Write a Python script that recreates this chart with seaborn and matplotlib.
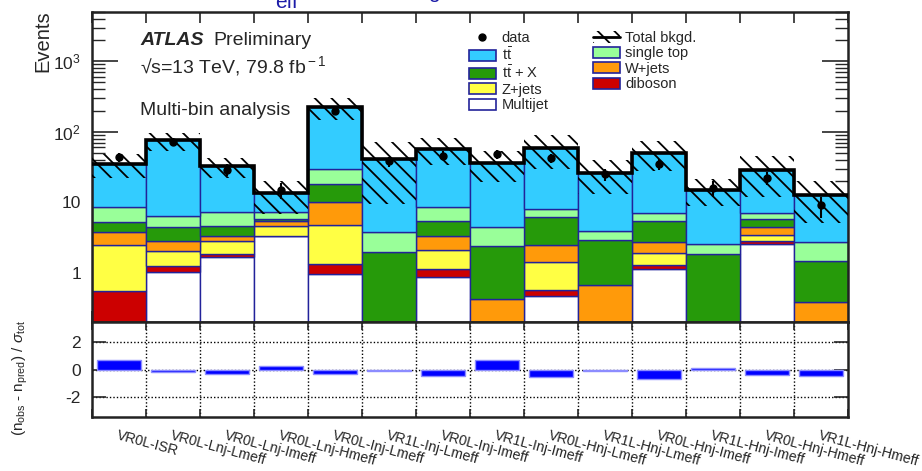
import numpy as np
import pandas as pd
import matplotlib
matplotlib.use("Agg")
import matplotlib.pyplot as plt
from matplotlib.patches import Patch
from matplotlib.lines import Line2D
from matplotlib.ticker import FixedLocator, FixedFormatter, LogLocator, NullFormatter
import seaborn as sns

# ---------------------------------------------------------------- data
regions = ["VR0L-ISR", "VR0L-Lnj-Lmeff", "VR0L-Lnj-Imeff", "VR0L-Lnj-Hmeff",
           "VR0L-Inj-Lmeff", "VR1L-Inj-Lmeff", "VR0L-Inj-Imeff", "VR1L-Inj-Imeff",
           "VR0L-Hnj-Lmeff", "VR1L-Hnj-Lmeff", "VR0L-Hnj-Imeff", "VR1L-Hnj-Imeff",
           "VR0L-Hnj-Hmeff", "VR1L-Hnj-Hmeff"]

multijet = [0.0, 1.04, 1.65, 3.29, 0.96, 0.0, 0.86, 0.0, 0.47, 0.0, 1.13, 0.0, 2.56, 0.0]
diboson = [0.55, 0.19, 0.20, 0.0, 0.37, 0.0, 0.27, 0.0, 0.10, 0.0, 0.16, 0.0, 0.23, 0.0]
zjets = [1.95, 0.83, 1.00, 1.37, 3.49, 0.0, 0.99, 0.0, 0.86, 0.0, 0.62, 0.0, 0.65, 0.0]
wjets = [1.24, 0.79, 0.44, 0.71, 5.38, 0.0, 1.24, 0.43, 1.05, 0.67, 0.85, 0.0, 0.97, 0.39]
ttx = [1.46, 1.66, 1.37, 0.43, 8.10, 1.99, 2.13, 1.99, 3.64, 2.28, 2.61, 1.85, 1.32, 1.09]
singletop = [3.30, 1.96, 2.54, 1.58, 10.9, 1.84, 3.20, 2.09, 1.93, 1.01, 1.61, 0.71, 1.25, 1.22]
ttbar = [26.7, 69.0, 25.0, 6.0, 195.8, 36.7, 48.8, 31.8, 51.2, 22.2, 43.4, 12.6, 21.9, 10.0]

data_obs = [44, 72, 29, 15, 197, 38, 46, 48, 42, 25, 35, 16, 22, 9]
bkg_unc = [13, 22, 10, 6.5, 79, 31, 24, 17, 30, 13, 23, 6.3, 17, 7.6]

process_labels = ["t$\\bar{\\rm t}$", "single top", "t$\\bar{\\rm t}$ + X", "W+jets",
                  "Z+jets", "diboson", "Multijet"]
process_values = [ttbar, singletop, ttx, wjets, zjets, diboson, multijet]
process_colors = ["#33CCFF", "#99FF99", "#269A0A", "#FF9A0A", "#FFFF44", "#CC0000", "#FFFFFF"]

# ---------------------------------------------------------------- derived quantities
nbins = len(regions)
idx = np.arange(nbins)
edges = np.arange(nbins + 1) - 0.5
total = np.sum(np.array(process_values), axis=0)
obs = np.array(data_obs, dtype=float)
sig = np.array(bkg_unc, dtype=float)
pull = (obs - total) / sig

rows = []
for name, vals in zip(process_labels, process_values):
    for i, v in enumerate(vals):
        rows.append({"bin": i, "process": name, "events": v})
stack_df = pd.DataFrame(rows)
pull_df = pd.DataFrame({"bin": idx, "pull": pull})

# ---------------------------------------------------------------- style
sns.set_theme(style="ticks")
plt.rcParams["font.family"] = ["Liberation Sans", "DejaVu Sans"]
plt.rcParams["mathtext.fontset"] = "custom"
plt.rcParams["mathtext.rm"] = "Liberation Sans"
plt.rcParams["mathtext.it"] = "Liberation Sans:italic"
plt.rcParams["mathtext.bf"] = "Liberation Sans:bold"
plt.rcParams["axes.unicode_minus"] = False
plt.rcParams["hatch.linewidth"] = 1.3
plt.rcParams["hatch.color"] = "black"

EDGE = "#22229A"
fig = plt.figure(figsize=(9.22, 4.71), dpi=100)
W, H = 922.0, 471.0
ax = fig.add_axes([92 / W, 1 - 322 / H, 756 / W, 310 / H])
axr = fig.add_axes([92 / W, 1 - 417 / H, 756 / W, 95 / H])

ax.set_yscale("log")

# stacked backgrounds
sns.histplot(data=stack_df, x="bin", weights="events", hue="process",
             hue_order=process_labels, palette=dict(zip(process_labels, process_colors)),
             multiple="stack", discrete=True, shrink=1, element="bars",
             edgecolor=EDGE, linewidth=1.0, alpha=1, legend=False, ax=ax)

# background uncertainty band
ax.bar(idx, 2 * sig, bottom=total - sig, width=1.0, fill=False, hatch="\\\\",
       edgecolor="black", linewidth=0, zorder=4)
# total background outline
ax.stairs(total, edges, baseline=None, color="black", linewidth=2.6, zorder=5)
# data
ax.errorbar(idx, obs, yerr=np.sqrt(obs), fmt="o", color="black", markersize=5,
            elinewidth=1.5, capsize=0, zorder=6)

ax.set_xlim(-0.5, nbins - 0.5)
ax.set_ylim(0.2, 5000)
ax.set_xlabel("")
ax.set_ylabel("")
ax.yaxis.set_major_locator(FixedLocator([1, 10, 100, 1000]))
ax.yaxis.set_major_formatter(FixedFormatter(["1", "10", "$10^{2}$", "$10^{3}$"]))
ax.yaxis.set_minor_locator(LogLocator(base=10, subs=np.arange(2, 10)))
ax.yaxis.set_minor_formatter(NullFormatter())
ax.xaxis.set_major_locator(FixedLocator(edges))
ax.xaxis.set_major_formatter(NullFormatter())
ax.xaxis.set_minor_locator(FixedLocator([]))
ax.tick_params(axis="x", which="major", direction="in", top=True, bottom=True,
               length=8, width=1.2, labelbottom=False)
ax.tick_params(axis="y", which="major", direction="in", left=True, right=True,
               length=19, width=1.2, labelsize=12.5, pad=8)
ax.tick_params(axis="y", which="minor", direction="in", left=True, right=True,
               length=9.5, width=1.0)
for s in ax.spines.values():
    s.set_linewidth(1.8)
    s.set_color("#222222")

# pull panel
sns.histplot(data=pull_df, x="bin", weights="pull", discrete=True, shrink=0.8,
             color="#0000FF", edgecolor="#8C8CFF", linewidth=1.0, alpha=1,
             legend=False, ax=axr)
axr.set_ylim(-3.5, 3.5)
axr.set_xlim(-0.5, nbins - 0.5)
axr.set_xlabel("")
axr.set_ylabel("")
for yv in (-2, 0, 2):
    axr.axhline(yv, color="black", linestyle=(0, (1, 1.5)), linewidth=1.0, zorder=0.5)
for xe in edges[1:-1]:
    axr.axvline(xe, color="black", linestyle=(0, (1, 1.5)), linewidth=1.0, zorder=0.5)
axr.yaxis.set_major_locator(FixedLocator([-2, 0, 2]))
axr.yaxis.set_minor_locator(FixedLocator([]))
axr.tick_params(axis="y", which="major", direction="in", left=True, right=True,
                length=10, width=1.2, labelsize=12.5, pad=8)
axr.xaxis.set_major_locator(FixedLocator(edges))
axr.xaxis.set_major_formatter(NullFormatter())
axr.xaxis.set_minor_locator(FixedLocator(idx))
axr.xaxis.set_minor_formatter(FixedFormatter(regions))
axr.tick_params(axis="x", which="major", direction="in", top=True, bottom=True,
                length=6, width=1.2)
axr.tick_params(axis="x", which="minor", length=0, labelsize=10.2, pad=8)
for lab in axr.get_xticklabels(minor=True):
    lab.set_rotation(-15)
    lab.set_ha("left")
    lab.set_va("top")
    lab.set_rotation_mode("anchor")
for s in axr.spines.values():
    s.set_linewidth(1.8)
    s.set_color("#222222")

# axis titles
fig.text(43 / W, 1 - 10 / H, "Events", rotation=90, ha="center", va="top", fontsize=14.5)
fig.text(20 / W, 1 - 378 / H,
         "(n$_{\\rm obs}$ - n$_{\\rm pred}$) / $\\sigma_{\\rm tot}$",
         rotation=90, ha="center", va="center", fontsize=11)

# labels inside the plot
ax.text(140 / W, 1 - 45 / H, "ATLAS", transform=fig.transFigure, fontsize=14,
        fontweight="bold", fontstyle="italic", va="baseline")
ax.text(213 / W, 1 - 45 / H, "Preliminary", transform=fig.transFigure, fontsize=14,
        va="baseline")
ax.text(140 / W, 1 - 73 / H, "\u221as=13 TeV, 79.8 fb$^{\\rm -1}$", transform=fig.transFigure,
        fontsize=14, va="baseline")
ax.text(140 / W, 1 - 115 / H, "Multi-bin analysis", transform=fig.transFigure,
        fontsize=14, va="baseline")

# heading above the frame (mostly outside the canvas)
fig.text(275 / W, 1 - 8 / H, "eff", color="#1C1CA8", fontsize=15, va="baseline")
fig.text(428 / W, 1 + 2 / H, "g", color="#1C1CA8", fontsize=15, va="baseline")

# legend
handles = [
    Line2D([], [], marker="o", color="black", linestyle="none", markersize=5),
    Patch(facecolor=process_colors[0], edgecolor=EDGE, linewidth=1.2),
    Patch(facecolor=process_colors[2], edgecolor=EDGE, linewidth=1.2),
    Patch(facecolor=process_colors[4], edgecolor=EDGE, linewidth=1.2),
    Patch(facecolor=process_colors[6], edgecolor=EDGE, linewidth=1.2),
    (Patch(facecolor="none", edgecolor="black", hatch="\\\\", linewidth=0),
     Line2D([], [], color="black", linewidth=2.0)),
    Patch(facecolor=process_colors[1], edgecolor=EDGE, linewidth=1.2),
    Patch(facecolor=process_colors[3], edgecolor=EDGE, linewidth=1.2),
    Patch(facecolor=process_colors[5], edgecolor=EDGE, linewidth=1.2),
]
labels = ["data", process_labels[0], process_labels[2], "Z+jets", "Multijet",
          "Total bkgd.", "single top", "W+jets", "diboson"]
ax.legend(handles, labels, loc="upper left", bbox_to_anchor=(469 / W, 1 - 31 / H),
          bbox_transform=fig.transFigure, ncol=2, frameon=False, fontsize=10.5,
          handlelength=1.85, handleheight=0.8, handletextpad=0.4, labelspacing=0.1,
          columnspacing=3.0, borderpad=0, borderaxespad=0)

fig.savefig("out.png", dpi=100)
